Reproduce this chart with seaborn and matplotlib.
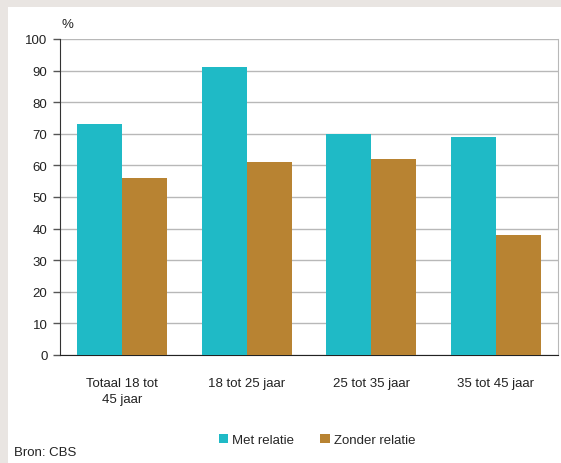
import pandas as pd
import matplotlib.pyplot as plt
import seaborn as sns
from matplotlib.patches import Rectangle

categories = ['Totaal 18 tot\n45 jaar', '18 tot 25 jaar', '25 tot 35 jaar', '35 tot 45 jaar']
met_relatie = [73, 91, 70, 69]
zonder_relatie = [56, 61, 62, 38]
series = ['Met relatie', 'Zonder relatie']
colors = ['#1fbac6', '#b88332']

df = pd.DataFrame({
    'Groep': categories * 2,
    'Waarde': met_relatie + zonder_relatie,
    'Relatie': [series[0]] * 4 + [series[1]] * 4,
})

sns.set_style('white')
plt.rcParams['font.family'] = ['Liberation Sans', 'DejaVu Sans']

fig = plt.figure(figsize=(5.61, 4.64), dpi=100)
fig.patch.set_facecolor('#e9e5e2')
# white panel behind everything
fig.add_artist(Rectangle((8 / 561, 0), 1, 1 - 8 / 464, transform=fig.transFigure,
                         facecolor='white', edgecolor='none', zorder=-10))

ax = fig.add_axes([60 / 561, (464 - 356) / 464, (558 - 60) / 561, (356 - 40) / 464])
ax.set_zorder(1)
ax.set_facecolor('white')

sns.barplot(data=df, x='Groep', y='Waarde', hue='Relatie', palette=colors,
            width=0.72, gap=0, saturation=1, ax=ax, legend=False, zorder=3)
for p in ax.patches:
    p.set_edgecolor('none')

ax.set_ylim(0, 100)
ax.set_yticks(range(0, 101, 10))
ax.set_xlim(-0.5, 3.5)
ax.yaxis.grid(True, color='#b8b8b8', linewidth=1, zorder=0)
ax.set_axisbelow(True)
ax.set_xlabel('')
ax.set_ylabel('')

ax.spines['top'].set_visible(False)
ax.spines['right'].set_color('#b8b8b8')
ax.spines['left'].set_color('#333333')
ax.spines['bottom'].set_color('#222222')
ax.tick_params(axis='y', which='both', left=True, length=5, width=1, color='#555555',
               labelsize=9.5, pad=4, labelcolor='#222222')
ax.tick_params(axis='x', bottom=False, labelsize=9.5, pad=12, labelcolor='#222222')
for lab in ax.get_xticklabels():
    lab.set_linespacing(1.55)

fig.text(62 / 561, 1 - 25 / 464, '%', fontsize=9.5, color='#222222', va='center')
fig.text(14 / 561, 1 - 453 / 464, 'Bron: CBS', fontsize=9.5, color='#222222', va='center')

handles = [Rectangle((0, 0), 1, 1, facecolor=c, edgecolor='none') for c in colors]
fig.legend(handles, series, loc='center', bbox_to_anchor=(0.565, 1 - 441 / 464), ncol=2,
           frameon=False, fontsize=9.5, handlelength=0.7, handleheight=0.7,
           handletextpad=0.3, columnspacing=2.0)

fig.savefig('out.png', dpi=100, facecolor=fig.get_facecolor())
